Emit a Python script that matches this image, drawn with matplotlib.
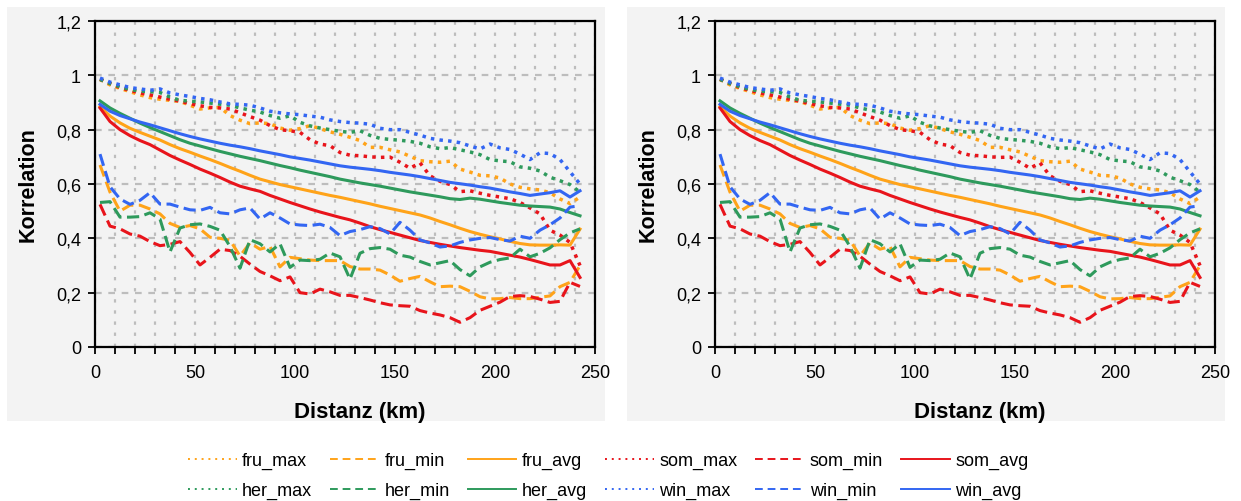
import matplotlib
matplotlib.use("Agg")
from matplotlib import pyplot as plt
from matplotlib.patches import Rectangle
from matplotlib.ticker import MultipleLocator, FixedLocator, FuncFormatter
from matplotlib.lines import Line2D

plt.rcParams['font.family'] = ['Liberation Sans', 'DejaVu Sans']

# ------------------------------------------------------------------
# data (distance bins in km)
# ------------------------------------------------------------------
dist = [2.5, 7.5, 12.5, 17.5, 22.5, 27.5, 32.5, 37.5, 42.5, 47.5,
        52.5, 57.5, 62.5, 67.5, 72.5, 77.5, 82.5, 87.5, 92.5, 97.5,
        102.5, 107.5, 112.5, 117.5, 122.5, 127.5, 132.5, 137.5, 142.5, 147.5,
        152.5, 157.5, 162.5, 167.5, 172.5, 177.5, 182.5, 187.5, 192.5, 197.5,
        202.5, 207.5, 212.5, 217.5, 222.5, 227.5, 232.5, 237.5, 242.5]

fru_max = [0.985, 0.965, 0.952, 0.940, 0.928, 0.918, 0.912, 0.908, 0.904, 0.890,
           0.876, 0.880, 0.882, 0.852, 0.835, 0.822, 0.825, 0.822, 0.806, 0.798,
           0.804, 0.815, 0.804, 0.792, 0.783, 0.772, 0.760, 0.735, 0.735, 0.726,
           0.718, 0.702, 0.686, 0.682, 0.680, 0.684, 0.655, 0.644, 0.632, 0.630,
           0.622, 0.600, 0.588, 0.582, 0.578, 0.568, 0.545, 0.528, 0.552]
fru_min = [0.670, 0.570, 0.500, 0.522, 0.522, 0.508, 0.490, 0.455, 0.440, 0.447,
           0.435, 0.404, 0.400, 0.393, 0.335, 0.383, 0.360, 0.370, 0.295, 0.330,
           0.325, 0.320, 0.318, 0.318, 0.318, 0.296, 0.287, 0.287, 0.283, 0.265,
           0.242, 0.252, 0.260, 0.240, 0.222, 0.224, 0.222, 0.205, 0.185, 0.177,
           0.178, 0.182, 0.178, 0.178, 0.183, 0.188, 0.222, 0.238, 0.300]
fru_avg = [0.885, 0.850, 0.825, 0.805, 0.790, 0.776, 0.762, 0.745, 0.730, 0.717,
           0.703, 0.690, 0.676, 0.661, 0.647, 0.632, 0.618, 0.608, 0.598, 0.590,
           0.582, 0.574, 0.566, 0.558, 0.551, 0.543, 0.535, 0.527, 0.518, 0.510,
           0.502, 0.494, 0.486, 0.475, 0.462, 0.450, 0.437, 0.425, 0.415, 0.406,
           0.398, 0.389, 0.381, 0.376, 0.375, 0.375, 0.376, 0.375, 0.434]

som_max = [0.985, 0.970, 0.955, 0.945, 0.935, 0.928, 0.920, 0.912, 0.905, 0.896,
           0.888, 0.882, 0.880, 0.876, 0.862, 0.848, 0.835, 0.815, 0.800, 0.796,
           0.790, 0.763, 0.747, 0.741, 0.716, 0.706, 0.704, 0.700, 0.698, 0.699,
           0.680, 0.658, 0.678, 0.630, 0.610, 0.598, 0.572, 0.575, 0.566, 0.558,
           0.552, 0.546, 0.532, 0.512, 0.490, 0.430, 0.412, 0.385, 0.300]
som_min = [0.525, 0.445, 0.435, 0.416, 0.408, 0.388, 0.373, 0.378, 0.388, 0.348,
           0.302, 0.330, 0.360, 0.355, 0.334, 0.305, 0.278, 0.262, 0.244, 0.258,
           0.200, 0.195, 0.213, 0.203, 0.190, 0.190, 0.182, 0.173, 0.163, 0.155,
           0.152, 0.150, 0.134, 0.125, 0.118, 0.108, 0.091, 0.108, 0.135, 0.150,
           0.165, 0.186, 0.189, 0.186, 0.176, 0.164, 0.168, 0.238, 0.223]
som_avg = [0.880, 0.830, 0.800, 0.778, 0.760, 0.745, 0.725, 0.705, 0.688, 0.672,
           0.655, 0.640, 0.624, 0.607, 0.592, 0.582, 0.573, 0.558, 0.545, 0.532,
           0.520, 0.508, 0.497, 0.487, 0.477, 0.468, 0.456, 0.443, 0.432, 0.422,
           0.412, 0.402, 0.392, 0.385, 0.378, 0.372, 0.366, 0.361, 0.356, 0.352,
           0.345, 0.338, 0.331, 0.322, 0.312, 0.302, 0.302, 0.318, 0.256]

her_max = [0.985, 0.970, 0.958, 0.948, 0.942, 0.940, 0.937, 0.920, 0.908, 0.905,
           0.902, 0.898, 0.894, 0.890, 0.880, 0.872, 0.865, 0.852, 0.842, 0.851,
           0.827, 0.814, 0.806, 0.800, 0.794, 0.790, 0.796, 0.779, 0.768, 0.764,
           0.761, 0.757, 0.750, 0.737, 0.730, 0.734, 0.726, 0.718, 0.708, 0.690,
           0.685, 0.682, 0.663, 0.658, 0.648, 0.625, 0.612, 0.598, 0.570]
her_min = [0.532, 0.535, 0.478, 0.478, 0.480, 0.494, 0.471, 0.350, 0.438, 0.450,
           0.453, 0.444, 0.430, 0.370, 0.290, 0.395, 0.380, 0.350, 0.380, 0.293,
           0.320, 0.318, 0.323, 0.346, 0.332, 0.250, 0.345, 0.362, 0.366, 0.360,
           0.338, 0.331, 0.315, 0.302, 0.310, 0.318, 0.285, 0.262, 0.295, 0.312,
           0.322, 0.328, 0.360, 0.332, 0.345, 0.365, 0.395, 0.420, 0.435]
her_avg = [0.906, 0.880, 0.860, 0.842, 0.824, 0.808, 0.793, 0.778, 0.763, 0.750,
           0.740, 0.730, 0.720, 0.711, 0.702, 0.694, 0.686, 0.677, 0.668, 0.660,
           0.651, 0.643, 0.635, 0.627, 0.618, 0.611, 0.604, 0.598, 0.592, 0.585,
           0.578, 0.571, 0.565, 0.559, 0.553, 0.546, 0.543, 0.548, 0.544, 0.538,
           0.532, 0.527, 0.522, 0.519, 0.517, 0.515, 0.508, 0.495, 0.483]

win_max = [0.990, 0.975, 0.965, 0.955, 0.950, 0.945, 0.950, 0.935, 0.928, 0.922,
           0.915, 0.910, 0.902, 0.895, 0.893, 0.890, 0.880, 0.868, 0.862, 0.858,
           0.855, 0.850, 0.846, 0.836, 0.830, 0.826, 0.824, 0.820, 0.805, 0.800,
           0.800, 0.790, 0.780, 0.768, 0.762, 0.758, 0.752, 0.740, 0.729, 0.747,
           0.733, 0.727, 0.710, 0.690, 0.715, 0.712, 0.690, 0.645, 0.600]
win_min = [0.710, 0.590, 0.545, 0.525, 0.540, 0.568, 0.526, 0.526, 0.515, 0.505,
           0.503, 0.514, 0.494, 0.490, 0.505, 0.512, 0.471, 0.494, 0.475, 0.453,
           0.449, 0.447, 0.452, 0.440, 0.410, 0.425, 0.432, 0.443, 0.436, 0.416,
           0.459, 0.430, 0.394, 0.383, 0.368, 0.372, 0.385, 0.394, 0.400, 0.403,
           0.395, 0.390, 0.408, 0.400, 0.430, 0.450, 0.475, 0.515, 0.520]
win_avg = [0.893, 0.868, 0.852, 0.840, 0.828, 0.818, 0.807, 0.796, 0.785, 0.775,
           0.766, 0.758, 0.750, 0.743, 0.737, 0.730, 0.722, 0.715, 0.708, 0.700,
           0.694, 0.688, 0.681, 0.674, 0.667, 0.662, 0.658, 0.654, 0.649, 0.643,
           0.638, 0.633, 0.627, 0.620, 0.613, 0.606, 0.601, 0.596, 0.590, 0.585,
           0.578, 0.571, 0.565, 0.558, 0.563, 0.568, 0.575, 0.552, 0.575]

# ------------------------------------------------------------------
# styles
# ------------------------------------------------------------------
c_fru = '#FFA319'
c_som = '#E8141B'
c_her = '#2E9A5C'
c_win = '#3366F2'

dotted = (0, (1, 1.5))
dashed = (0, (4, 1.8))

series = [
    ('fru_max', fru_max, c_fru, dotted),
    ('fru_min', fru_min, c_fru, dashed),
    ('fru_avg', fru_avg, c_fru, '-'),
    ('som_max', som_max, c_som, dotted),
    ('som_min', som_min, c_som, dashed),
    ('som_avg', som_avg, c_som, '-'),
    ('her_max', her_max, c_her, dotted),
    ('her_min', her_min, c_her, dashed),
    ('her_avg', her_avg, c_her, '-'),
    ('win_max', win_max, c_win, dotted),
    ('win_min', win_min, c_win, dashed),
    ('win_avg', win_avg, c_win, '-'),
]

panel_gray = '#F3F3F3'
W, H = 1241, 502


def comma(v, pos):
    s = ('%.1f' % v).replace('.', ',')
    if s.endswith(',0'):
        s = s[:-2]
    return s


def draw_panel(ax):
    ax.set_facecolor(panel_gray)
    for name, vals, col, ls in series:
        lw = 2.5 if ls == dotted else 2.2
        ax.plot(dist, vals, color=col, linestyle=ls, linewidth=lw, zorder=3)

    ax.set_xlim(0, 250)
    ax.set_ylim(0, 1.2)
    ax.xaxis.set_major_locator(MultipleLocator(50))
    ax.xaxis.set_minor_locator(MultipleLocator(10))
    ax.yaxis.set_major_locator(FixedLocator([0, 0.2, 0.4, 0.6, 0.8, 1.0, 1.2]))
    ax.yaxis.set_major_formatter(FuncFormatter(comma))

    ax.grid(which='minor', axis='x', color='#BDBDBD', linestyle=(0, (1.5, 3.5)), linewidth=1.6, zorder=0)
    ax.grid(which='major', axis='x', color='#BDBDBD', linestyle=(0, (1.5, 3.5)), linewidth=1.6, zorder=0)
    ax.grid(which='major', axis='y', color='#BDBDBD', linestyle=(0, (3, 3)), linewidth=1.6, zorder=0)
    ax.set_axisbelow(True)

    ax.tick_params(which='major', direction='out', length=5, width=1.3, labelsize=13, color='black')
    ax.tick_params(which='minor', direction='out', length=5, width=1.3, color='black')
    ax.tick_params(axis='x', which='major', pad=7)
    ax.tick_params(axis='y', which='major', pad=5)
    for sp in ax.spines.values():
        sp.set_linewidth(1.6)
        sp.set_color('black')

    ax.set_xlabel('Distanz (km)', fontsize=16, fontweight='bold')
    ax.set_ylabel('Korrelation', fontsize=15.5, fontweight='bold')
    ax.xaxis.set_label_coords(0.53, -0.165)
    ax.yaxis.set_label_coords(-0.113, 0.5)


fig = plt.figure(figsize=(W / 100, H / 100), dpi=100)
fig.patch.set_facecolor('white')

for x0 in (7, 627):
    fig.patches.append(Rectangle((x0 / W, 1 - 422 / H), 598 / W, 414 / H,
                                 transform=fig.transFigure, facecolor=panel_gray,
                                 edgecolor='none', zorder=-10))

ax1 = fig.add_axes([95 / W, 1 - 348 / H, 500 / W, 326 / H])
ax2 = fig.add_axes([715 / W, 1 - 348 / H, 500 / W, 326 / H])
ax1.set_zorder(2)
ax2.set_zorder(2)
draw_panel(ax1)
draw_panel(ax2)

# legend, row-wise order as in the reference (6 columns x 2 rows)
handles = {}
for name, vals, col, ls in series:
    leg_ls = ls
    if ls == dotted:
        leg_ls = (0, (1, 2.5))
    elif ls == dashed:
        leg_ls = (0, (4, 2.5))
    handles[name] = Line2D([], [], color=col, linestyle=leg_ls, linewidth=1.4)

order = []
for grp in ['fru_max', 'fru_min', 'fru_avg', 'som_max', 'som_min', 'som_avg']:
    order.append(grp)
    order.append(grp.replace('fru', 'her').replace('som', 'win'))

fig.legend([handles[n] for n in order], order, loc='center',
           bbox_to_anchor=(0.49, 1 - 476.5 / H), ncol=6, frameon=False,
           fontsize=13, handlelength=2.7, handletextpad=0.3,
           columnspacing=1.0, labelspacing=0.7)

fig.savefig('out.png', dpi=100, facecolor='white')
